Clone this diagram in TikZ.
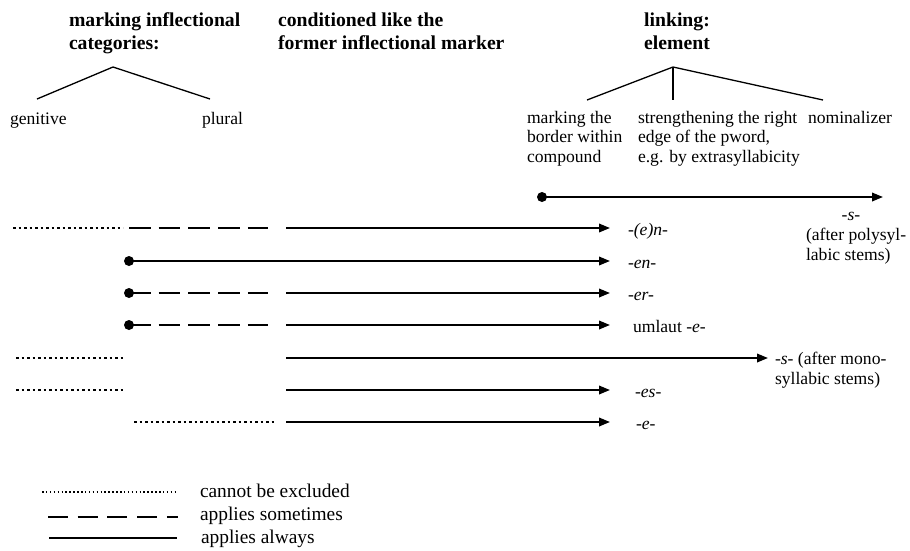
\documentclass[tikz,border=0pt]{standalone}
\usepackage{fontspec}
\setmainfont{Liberation Serif}
\usetikzlibrary{arrows.meta}
\begin{document}
\begin{tikzpicture}[x=1pt,y=-1pt,
  every node/.style={inner sep=0pt, outer sep=0pt},
  head/.style={font=\fontsize{19.7}{22.6}\selectfont\bfseries, align=left, anchor=base west},
  txt/.style={font=\fontsize{17.6}{19.5}\selectfont, align=left, anchor=base west},
  key/.style={font=\fontsize{19.4}{23}\selectfont, anchor=base west},
  branch/.style={line width=1.3pt},
  always/.style={line width=2pt},
  sometimes/.style={line width=2pt, dash pattern=on 21.5pt off 8.2pt},
  maybe/.style={line width=2pt, dash pattern=on 2.5pt off 3pt},
  tip/.style={-{Triangle[length=11pt,width=8.5pt]}},
  startdot/.style={fill, circle, minimum size=10pt}]
\useasboundingbox (0,0) rectangle (910,550);

% column headings (base anchor sits on the last line)
\node[head] (h1) at (69,49.3) {marking inflectional\\categories:};
\node[head] (h2) at (278,49.3) {conditioned like the\\former inflectional marker};
\node[head, align=center, anchor=base] (h3) at (677,49.3) {linking:\\element};

% inflectional categories
\coordinate (a1) at (113,67);
\coordinate (g1) at (37,99);
\coordinate (p1) at (210,99);
\draw[branch] (g1) -- (a1) -- (p1);
\node[txt] (gen) at (10,124) {genitive};
\node[txt] (plu) at (202,124) {plural};

% functions of the linking element
\coordinate (a2) at (673,67);
\coordinate (b1) at (587,100);
\coordinate (b2) at (673,100);
\coordinate (b3) at (823,100);
\draw[branch] (b1) -- (a2) -- (b3);
\draw[branch] (a2) -- (b2);
\node[txt] (bord) at (527,162) {marking the\\border within\\compound};
\node[txt] (edge) at (638,162) {strengthening the right\\edge of the pword,\\e.g. by extrasyllabicity};
\node[txt] (nom) at (808,123) {nominalizer};

% -s- after polysyllabic stems
\node[startdot] (s0) at (542,197) {};
\coordinate (s1) at (883,197);
\draw[always,tip] (s0.center) -- (s1);
\node[txt, anchor=base] (sl) at (851,220) {\textit{-s-}};
\node[txt] (sl2) at (806,260) {(after polysyl-\\labic stems)};

% -(e)n-
\coordinate (r1a) at (13,228);
\coordinate (r1b) at (123,228);
\coordinate (r1c) at (129,228);
\coordinate (r1d) at (268,228);
\coordinate (r1e) at (286,228);
\coordinate (r1f) at (610,228);
\draw[maybe] (r1a) -- (r1b);
\draw[sometimes] (r1c) -- (r1d);
\draw[always,tip] (r1e) -- (r1f);
\node[txt] (l1) at (628,235) {\textit{-(e)n-}};

% -en-
\node[startdot] (r2a) at (129,261) {};
\coordinate (r2f) at (610,261);
\draw[always,tip] (r2a.center) -- (r2f);
\node[txt] (l2) at (628,268) {\textit{-en-}};

% -er-
\node[startdot] (r3a) at (129,293) {};
\coordinate (r3d) at (268,293);
\coordinate (r3e) at (286,293);
\coordinate (r3f) at (610,293);
\draw[sometimes] (r3a.center) -- (r3d);
\draw[always,tip] (r3e) -- (r3f);
\node[txt] (l3) at (628,300) {\textit{-er-}};

% umlaut -e-
\node[startdot] (r4a) at (129,325) {};
\coordinate (r4d) at (268,325);
\coordinate (r4e) at (286,325);
\coordinate (r4f) at (610,325);
\draw[sometimes] (r4a.center) -- (r4d);
\draw[always,tip] (r4e) -- (r4f);
\node[txt] (l4) at (633,332) {umlaut \textit{-e-}};

% -s- after monosyllabic stems
\coordinate (r5a) at (16,358);
\coordinate (r5b) at (123,358);
\coordinate (r5e) at (286,358);
\coordinate (r5f) at (768,358);
\draw[maybe] (r5a) -- (r5b);
\draw[always,tip] (r5e) -- (r5f);
\node[txt] (l5) at (775,384) {\textit{-s-} (after mono-\\syllabic stems)};

% -es-
\coordinate (r6a) at (16,390);
\coordinate (r6b) at (123,390);
\coordinate (r6e) at (286,390);
\coordinate (r6f) at (610,390);
\draw[maybe] (r6a) -- (r6b);
\draw[always,tip] (r6e) -- (r6f);
\node[txt] (l6) at (635,397) {\textit{-es-}};

% -e-
\coordinate (r7a) at (134,422);
\coordinate (r7b) at (274,422);
\coordinate (r7e) at (286,422);
\coordinate (r7f) at (610,422);
\draw[maybe] (r7a) -- (r7b);
\draw[always,tip] (r7e) -- (r7f);
\node[txt] (l7) at (636,429) {\textit{-e-}};

% legend
\coordinate (k1a) at (42,492);
\coordinate (k1b) at (178,492);
\draw[line width=1.5pt, dash pattern=on 1.5pt off 2.4pt] (k1a) -- (k1b);
\node[key] (k1) at (200,497) {cannot be excluded};
\coordinate (k2a) at (48,517);
\coordinate (k2b) at (178,517);
\draw[line width=2pt, dash pattern=on 20pt off 9.7pt] (k2a) -- (k2b);
\node[key] (k2) at (200,520) {applies sometimes};
\coordinate (k3a) at (49,538);
\coordinate (k3b) at (177,538);
\draw[always] (k3a) -- (k3b);
\node[key] (k3) at (201,543) {applies always};
\end{tikzpicture}
\end{document}
